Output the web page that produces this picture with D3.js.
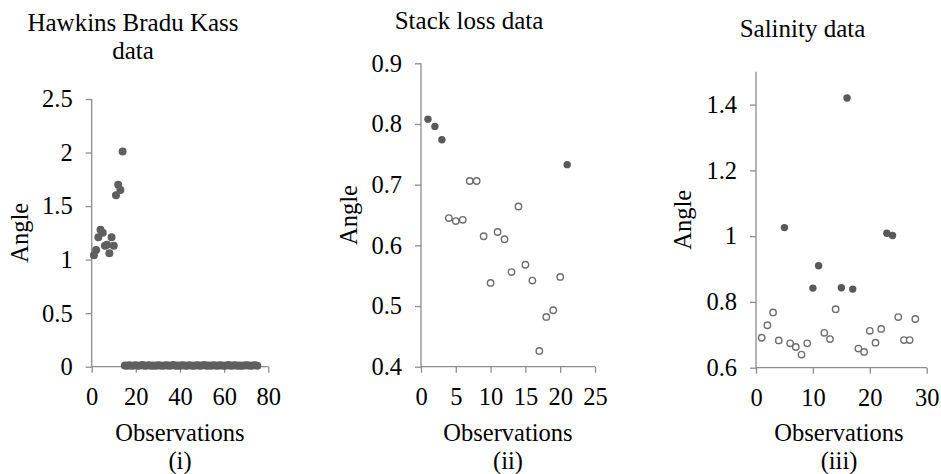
<!DOCTYPE html>
<html>
<head>
<meta charset="utf-8">
<script src="https://cdn.jsdelivr.net/npm/d3@7"></script>
<style>
  html, body { margin: 0; padding: 0; background: #ffffff; }
  svg { display: block; }
  text { font-family: "Liberation Serif", "Times New Roman", serif; fill: #000; }
</style>
</head>
<body>
<svg id="chart" width="941" height="474"></svg>
<script>
// ---------- Data ----------
// (i) Hawkins Bradu Kass data: observations 1..75
const hbkOutlierAngles = [1.04, 1.09, 1.21, 1.28, 1.25, 1.13, 1.14, 1.06, 1.21, 1.13, 1.60, 1.70, 1.65, 2.01];
const hbkCleanAngles = [
  0.012, 0.010, 0.014, 0.008, 0.011, 0.013, 0.009, 0.012, 0.015, 0.010,
  0.011, 0.013, 0.009, 0.012, 0.010, 0.014, 0.011, 0.008, 0.012, 0.013,
  0.010, 0.011, 0.015, 0.009, 0.012, 0.010, 0.013, 0.011, 0.009, 0.014,
  0.012, 0.010, 0.011, 0.013, 0.008, 0.012, 0.015, 0.010, 0.011, 0.009,
  0.013, 0.012, 0.010, 0.014, 0.011, 0.009, 0.012, 0.016, 0.010, 0.011,
  0.013, 0.009, 0.012, 0.010, 0.011, 0.014, 0.012, 0.009, 0.011, 0.013,
  0.010
];
// (ii) Stack loss data: observations 1..21
const stackAngles = [0.808, 0.796, 0.774, 0.645, 0.640, 0.642, 0.706, 0.706, 0.615, 0.538,
                     0.622, 0.610, 0.556, 0.664, 0.568, 0.542, 0.426, 0.482, 0.493, 0.548, 0.733];
const stackOutliers = [1, 2, 3, 21];
// (iii) Salinity data: observations 1..28
const salinityAngles = [0.691, 0.729, 0.768, 0.683, 1.026, 0.674, 0.663, 0.640, 0.674, 0.842,
                        0.910, 0.706, 0.687, 0.778, 0.843, 1.420, 0.839, 0.658, 0.648, 0.712,
                        0.676, 0.718, 1.009, 1.002, 0.754, 0.684, 0.684, 0.748];
const salinityOutliers = [5, 10, 11, 15, 16, 17, 23, 24];

// Tick labels
const hbkXTicks = [0, 20, 40, 60, 80];
const hbkYTicks = [0, 0.5, 1, 1.5, 2, 2.5];
const stackXTicks = [0, 5, 10, 15, 20, 25];
const stackYTicks = [0.4, 0.5, 0.6, 0.7, 0.8, 0.9];
const salXTicks = [0, 10, 20, 30];
const salYTicks = [0.6, 0.8, 1, 1.2, 1.4];

const titles = [["Hawkins Bradu Kass", "data"], ["Stack loss data"], ["Salinity data"]];
const panelLabels = ["(i)", "(ii)", "(iii)"];

// ---------- Build point tables ----------
const hbkPoints = hbkOutlierAngles.map((v, i) => ({ obs: i + 1, angle: v, outlier: true }))
  .concat(hbkCleanAngles.map((v, i) => ({ obs: i + 15, angle: v, outlier: true })));
const stackPoints = stackAngles.map((v, i) => ({ obs: i + 1, angle: v, outlier: stackOutliers.includes(i + 1) }));
const salPoints = salinityAngles.map((v, i) => ({ obs: i + 1, angle: v, outlier: salinityOutliers.includes(i + 1) }));

const svg = d3.select("#chart");
const FONT = "Liberation Serif, Times New Roman, serif";
const axisColor = "#8c8c8c";
const fillColor = "#595959";
const openColor = "#6e6e6e";

const panels = [
  { pts: hbkPoints, xDom: [0, 80], yDom: [0, 2.5], xr: [91.7, 268.3], yr: [366.7, 99],
    xt: hbkXTicks, yt: hbkYTicks, r: 4, titleX: 133, titleY: 30.5, labelX: 28, obsX: 180, fill: "#5f5f5f", fmt: "" },
  { pts: stackPoints, xDom: [0, 25], yDom: [0.4, 0.9], xr: [421, 595], yr: [366.7, 63.3],
    xt: stackXTicks, yt: stackYTicks, r: 3.7, titleX: 469, titleY: 29.3, labelX: 357, obsX: 508, fmt: ".1f" },
  { pts: salPoints, xDom: [0, 30], yDom: [0.6, 1.5], xr: [756, 926.7], yr: [367.7, 71.7],
    xt: salXTicks, yt: salYTicks, r: 3.7, titleX: 802.5, titleY: 36.7, labelX: 691, obsX: 839, fmt: "" }
];

panels.forEach((p, idx) => {
  const x = d3.scaleLinear().domain(p.xDom).range(p.xr);
  const y = d3.scaleLinear().domain(p.yDom).range(p.yr);
  const g = svg.append("g");

  // Y axis
  const yAxis = d3.axisLeft(y).tickValues(p.yt).tickSize(6).tickPadding(13)
    .tickFormat(d3.format(p.fmt));
  const ya = g.append("g").attr("transform", `translate(${p.xr[0]},0)`).call(yAxis);
  ya.select(".domain").attr("d", `M0,${p.yr[0]}V${p.yr[1]}`);
  // X axis
  const xAxis = d3.axisBottom(x).tickValues(p.xt).tickSize(6).tickPadding(10).tickFormat(d3.format(""));
  const xa = g.append("g").attr("transform", `translate(0,${p.yr[0]})`).call(xAxis);
  xa.select(".domain").attr("d", `M${p.xr[0]},0H${p.xr[1]}`);

  [ya, xa].forEach(a => {
    a.attr("font-family", FONT).attr("font-size", 24.5);
    a.select(".domain").attr("stroke", axisColor).attr("stroke-width", 1.3);
    a.selectAll(".tick line").attr("stroke", axisColor).attr("stroke-width", 1.3);
    a.selectAll(".tick text").attr("font-family", FONT).attr("font-size", 24.5).attr("fill", "#000");
  });
  xa.selectAll(".tick text").attr("dy", "0").attr("y", 38);

  // Points
  g.append("g").selectAll("circle").data(p.pts).enter().append("circle")
    .attr("cx", d => x(d.obs))
    .attr("cy", d => y(d.angle))
    .attr("r", d => d.outlier ? p.r : 3.2)
    .attr("fill", d => d.outlier ? (p.fill || fillColor) : "#fff")
    .attr("stroke", d => d.outlier ? "none" : openColor)
    .attr("stroke-width", 1.4);

  // Title
  const t = g.append("text").attr("text-anchor", "middle").attr("font-family", FONT).attr("font-size", 25);
  titles[idx].forEach((line, li) => {
    t.append("tspan").attr("x", p.titleX).attr("y", p.titleY + li * 28).text(line);
  });

  // Y label
  const yMid = (p.yr[0] + p.yr[1]) / 2;
  g.append("text").attr("text-anchor", "middle")
    .attr("transform", `translate(${p.labelX},${yMid}) rotate(-90)`)
    .attr("font-family", FONT).attr("font-size", 24.5).text("Angle");

  // X label + panel label
  g.append("text").attr("text-anchor", "middle").attr("x", p.obsX).attr("y", 441)
    .attr("font-family", FONT).attr("font-size", 24.5).text("Observations");
  g.append("text").attr("text-anchor", "middle").attr("x", p.obsX).attr("y", 468.5)
    .attr("font-family", FONT).attr("font-size", 24.5).text(panelLabels[idx]);
});
</script>
</body>
</html>
